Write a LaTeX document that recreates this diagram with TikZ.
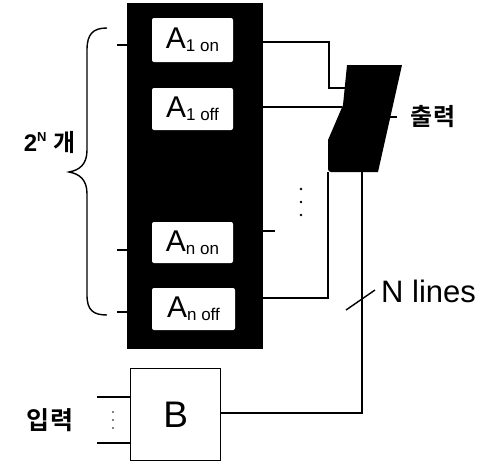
\documentclass[tikz,border=0pt]{standalone}
\usepackage{fontspec}
\newfontfamily\hv{Liberation Sans}
\newfontfamily\kr{Noto Sans CJK KR}[BoldFont={Noto Sans CJK KR Bold}]
\begin{document}
\begin{tikzpicture}[x=1pt,y=-1pt,
  wire/.style={line width=1.6pt,line join=miter},
  cell/.style={fill=white,draw=none,rounded corners=2pt,inner sep=0pt,
     minimum width=81pt,minimum height=42pt,font=\hv},
  lab/.style={inner sep=0pt}]
\useasboundingbox (0,0) rectangle (492,464);
% memory block
\node[fill=black,draw=none,inner sep=0pt,minimum width=136pt,minimum height=346pt,anchor=north west] (mem) at (127,3) {};
\newcommand{\Alab}[2]{\fontsize{30}{30}\selectfont A\raisebox{-3pt}{\fontsize{17}{17}\selectfont #1 #2}}
\node[cell,minimum height=44pt] (a1on) at (192.5,40) {\Alab{1}{on}};
\node[cell] (a1off) at (192.5,109) {\Alab{1}{off}};
\node[cell,minimum height=41pt] (anon) at (192.5,242.5) {\Alab{n}{on}};
\node[cell,minimum width=83pt] (anoff) at (193.5,309) {\Alab{n}{off}};
% left stubs
\coordinate (l1) at (117,45);
\coordinate (l2) at (117,250);
\coordinate (l3) at (117,312);
\draw[wire] (l1) -- (l1 -| mem.west);
\draw[wire] (l2) -- (l2 -| mem.west);
\draw[wire] (l3) -- (l3 -| mem.west);
% brace
\draw[line width=1.4pt] (107,28) .. controls (93,28) and (87,34) .. (87,50) -- (87,150)
  .. controls (87,164) and (80,170) .. (69,172)
  .. controls (80,174) and (87,180) .. (87,194) -- (87,295)
  .. controls (87,310) and (93,315) .. (107,315);
\node[lab,anchor=east] (cnt) at (76,142) {\hv\bfseries\fontsize{24}{24}\selectfont 2\textsuperscript{\fontsize{13}{13}\selectfont N} {\kr\bfseries\fontsize{24}{24}\selectfont 개}};
% mux
\coordinate (m1) at (347,65);
\coordinate (m2) at (402,65);
\coordinate (m3) at (378,172);
\coordinate (m4) at (328,172);
\fill[black] (m1) -- (m2) -- (m3) [rounded corners=3pt] -- (m4) [sharp corners] -- (328,140) -- (343,105) -- cycle;
\coordinate (min1) at (345,88);
\coordinate (min2) at (342,107);
\coordinate (mb1) at (328,172);
\coordinate (mb2) at (362,172);
\coordinate (mout) at (390,117);
\draw[wire] (mout) -- (397,117);
\node[lab] (out) at (433,117) {\kr\bfseries\fontsize{24}{24}\selectfont 출력};
% connections
\coordinate (r1) at (263,42);
\coordinate (r2) at (263,107);
\coordinate (r3) at (263,231);
\coordinate (r4) at (263,298);
\draw[wire] (r1) -- (329,42) -- (329,88) -- (min1);
\draw[wire] (r2) -- (min2);
\draw[wire] (r3) -- (275,231);
\draw[wire] (r4) -- (328,298) -- (mb1);
\foreach \y in {189,202,215} \fill (301,\y) circle (1.4pt);
% B block
\node[draw,line width=1.4pt,minimum width=90pt,minimum height=92pt,inner sep=0pt,anchor=north west] (B) at (130,368) {};
\node[lab] (Blab) at (B.center) {\hv\fontsize{37}{37}\selectfont B};
\draw[wire] (mb2) -- (362,413) -- (B.east |- 0,413);
\coordinate (i1) at (97,397);
\coordinate (i2) at (97,443);
\draw[wire] (i1) -- (i1 -| B.west);
\draw[wire] (i2) -- (i2 -| B.west);
\foreach \y in {412,420,428} \fill (113,\y) circle (0.9pt);
\node[lab] (in) at (50,420) {\kr\bfseries\fontsize{25}{25}\selectfont 입력};
% N lines
\coordinate (s1) at (346,310);
\coordinate (s2) at (375,290);
\draw[line width=1.4pt] (s1) -- (s2);
\node[lab,anchor=base west] (nl) at (381,302) {\hv\fontsize{31}{31}\selectfont N lines};
\end{tikzpicture}
\end{document}
